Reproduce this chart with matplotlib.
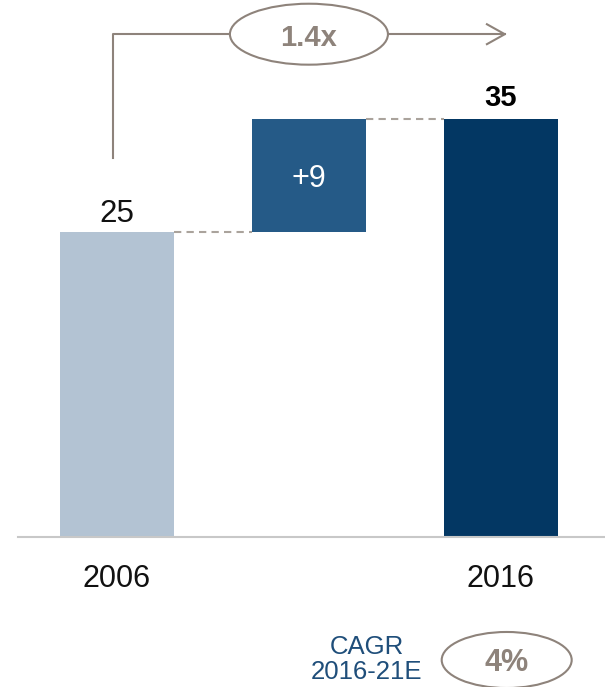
import matplotlib
matplotlib.use('Agg')
import matplotlib.pyplot as plt
from matplotlib.patches import Ellipse

plt.rcParams['font.family'] = ['Liberation Sans', 'DejaVu Sans']

# waterfall data
years = ['2006', '2016']
start_value = 25.4
change_value = 9.4
end_value = 34.8
growth_label = '1.4x'
cagr_title = 'CAGR\n2016-21E'
cagr_value = '4%'

light = '#b3c3d3'
mid = '#255a87'
dark = '#033763'
grey = '#8e837b'
dash_col = '#aaa39c'

fig = plt.figure(figsize=(6.05, 6.87), dpi=100)
ax = fig.add_axes([0, 0, 1, 1])
ax.set_xlim(-0.609, 2.542)
ax.set_ylim(-12.5, 44.75)
ax.axis('off')

x = [0, 1, 2]
w = 0.59
ax.bar(x[0], start_value, w, color=light)
ax.bar(x[1], change_value, w, bottom=start_value, color=mid)
ax.bar(x[2], end_value, w, color=dark)

# connectors between bars
top_change = start_value + change_value
ax.plot([x[0] + w / 2, x[1] - w / 2], [start_value, start_value],
        ls=(0, (3.5, 2.5)), color=dash_col, lw=1.5)
ax.plot([x[1] + w / 2, x[2] - w / 2], [top_change, top_change],
        ls=(0, (3.5, 2.5)), color=dash_col, lw=1.5)

# baseline
ax.plot([-0.516, 2.542], [0, 0], color='#c8c8c8', lw=1.5, clip_on=False)

# value labels
ax.text(x[0], start_value + 0.85, f'{start_value:.0f}', ha='center',
        va='baseline', fontsize=22.5, color='#111111')
ax.text(x[1], (start_value + top_change) / 2, f'+{change_value:.0f}',
        ha='center', va='center_baseline', fontsize=22, color='white')
ax.text(x[2], end_value + 1.1, f'{end_value:.0f}', ha='center',
        va='baseline', fontsize=21, fontweight='bold', color='black')

# year labels
ax.text(x[0], -4.17, years[0], ha='center', va='baseline', fontsize=22,
        color='#111111')
ax.text(x[2], -4.17, years[1], ha='center', va='baseline', fontsize=22,
        color='#111111')

# growth bracket with multiplier bubble
y_br = 41.9
ax.plot([x[0] - 0.02, x[0] - 0.02, 1 - 0.41], [31.6, y_br, y_br],
        color=grey, lw=1.5)
ax.plot([1 + 0.41, x[2] + 0.02], [y_br, y_br], color=grey, lw=1.5)
ax.plot([x[2] - 0.073, x[2] + 0.02, x[2] - 0.073],
        [y_br + 0.83, y_br, y_br - 0.83], color=grey, lw=1.5)
ax.add_patch(Ellipse((1.0, y_br), 0.823, 5.08, facecolor='white',
                     edgecolor=grey, lw=1.5, zorder=3))
ax.text(1.0, y_br - 0.3, growth_label, ha='center', va='center',
        fontsize=21, fontweight='bold', color=grey, zorder=4)

# CAGR note
ax.text(1.30, -10.2, cagr_title, ha='center', va='center',
        multialignment='center', linespacing=1.05, fontsize=18.5,
        color='#1f4e7a')
ax.add_patch(Ellipse((2.03, -10.25), 0.677, 4.67, facecolor='white',
                     edgecolor=grey, lw=1.5, zorder=3, clip_on=False))
ax.text(2.03, -10.5, cagr_value, ha='center', va='center', fontsize=22,
        fontweight='bold', color=grey, zorder=4)

fig.savefig('out.png', dpi=100)
